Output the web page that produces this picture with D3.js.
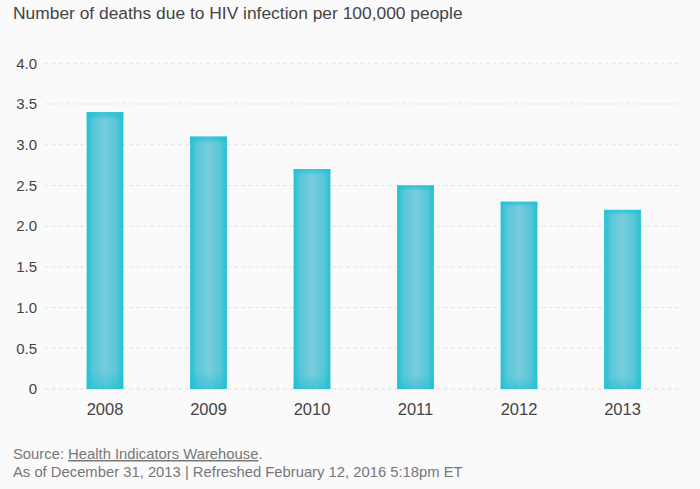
<!DOCTYPE html>
<html lang="en">
<head>
    <meta charset="UTF-8">
    <title>HIV deaths per 100,000</title>
    <script src="https://d3js.org/d3.v7.min.js"></script>
    <style>
        body{
            margin: 0;
            background-color: #fafafa;
            font-family: "Liberation Sans", Arial, sans-serif;
        }
        .title{
            font-size: 17.4px;
            fill: #444;
        }
        .tick text{
            fill: #444;
        }
        .footer{
            font-size: 14.8px;
            fill: #777;
        }
    </style>
</head>
<body>
<svg id="chart" width="700" height="489"></svg>
<script>
    // values
    let years = ["2008", "2009", "2010", "2011", "2012", "2013"]
    let deaths = [3.4, 3.1, 2.7, 2.5, 2.3, 2.2]
    let yTicks = [0, 0.5, 1.0, 1.5, 2.0, 2.5, 3.0, 3.5, 4.0]

    let svg = d3.select("#chart")

    let x = d3.scaleBand()
        .domain(years)
        .range([53.25, 674.25])
        .paddingInner(0.645)
        .paddingOuter(0.3225)

    let y = d3.scaleLinear()
        .domain([0, 4])
        .range([389, 63.3])

    // gradients for the bars (brighter centre, darker cyan edges)
    let defs = svg.append("defs")
    let hGrad = defs.append("linearGradient").attr("id", "barH")
    hGrad.append("stop").attr("offset", "0%").attr("stop-color", "#22c0d3")
    hGrad.append("stop").attr("offset", "18%").attr("stop-color", "#58c7d9")
    hGrad.append("stop").attr("offset", "50%").attr("stop-color", "#78cddc")
    hGrad.append("stop").attr("offset", "82%").attr("stop-color", "#58c7d9")
    hGrad.append("stop").attr("offset", "100%").attr("stop-color", "#22c0d3")

    let vGrad = defs.append("linearGradient").attr("id", "barV")
        .attr("x1", 0).attr("y1", 0).attr("x2", 0).attr("y2", 1)
    vGrad.append("stop").attr("offset", "0%").attr("stop-color", "#1fbfd2").attr("stop-opacity", 0.8)
    vGrad.append("stop").attr("offset", "3%").attr("stop-color", "#1fbfd2").attr("stop-opacity", 0)
    vGrad.append("stop").attr("offset", "93%").attr("stop-color", "#1fbfd2").attr("stop-opacity", 0)
    vGrad.append("stop").attr("offset", "100%").attr("stop-color", "#1fbfd2").attr("stop-opacity", 0.6)

    // y axis labels
    let yAxis = d3.axisLeft(y)
        .tickValues(yTicks)
        .tickSize(0)
        .tickPadding(8)
        .tickFormat(d => d === 0 ? "0" : d.toFixed(1))

    let gy = svg.append("g")
        .attr("transform", "translate(45,0)")
        .call(yAxis)
    gy.select(".domain").remove()
    gy.selectAll("text").style("font-size", "15px").style("font-family", "Liberation Sans, Arial, sans-serif")

    // dashed grid
    svg.append("g").selectAll("line")
        .data(yTicks)
        .join("line")
        .attr("x1", 45)
        .attr("x2", 681)
        .attr("y1", d => y(d))
        .attr("y2", d => y(d))
        .attr("stroke", d => d === 0 ? "#e6dcd6" : "#e3e3e3")
        .attr("stroke-dasharray", "4,3")

    // bars
    let bars = svg.append("g").selectAll("g")
        .data(deaths)
        .join("g")

    bars.append("rect")
        .attr("x", (d, i) => x(years[i]))
        .attr("y", d => y(d))
        .attr("width", x.bandwidth())
        .attr("height", d => y(0) - y(d))
        .attr("fill", "url(#barH)")

    bars.append("rect")
        .attr("x", (d, i) => x(years[i]))
        .attr("y", d => y(d))
        .attr("width", x.bandwidth())
        .attr("height", d => y(0) - y(d))
        .attr("fill", "url(#barV)")

    // x axis labels
    let gx = svg.append("g")
        .attr("transform", "translate(0,389)")
        .call(d3.axisBottom(x).tickSize(0).tickPadding(14))
    gx.select(".domain").remove()
    gx.selectAll("text").style("font-size", "16.5px").style("font-family", "Liberation Sans, Arial, sans-serif")

    // title
    svg.append("text")
        .attr("class", "title")
        .attr("x", 13)
        .attr("y", 19)
        .text("Number of deaths due to HIV infection per 100,000 people")

    // footer
    let src = svg.append("text")
        .attr("class", "footer")
        .attr("x", 13)
        .attr("y", 459)
    src.append("tspan").text("Source: ")
    src.append("tspan").attr("text-decoration", "underline").text("Health Indicators Warehouse")
    src.append("tspan").text(".")

    svg.append("text")
        .attr("class", "footer")
        .attr("x", 13)
        .attr("y", 477)
        .text("As of December 31, 2013 | Refreshed February 12, 2016 5:18pm ET")
</script>
</body>
</html>
